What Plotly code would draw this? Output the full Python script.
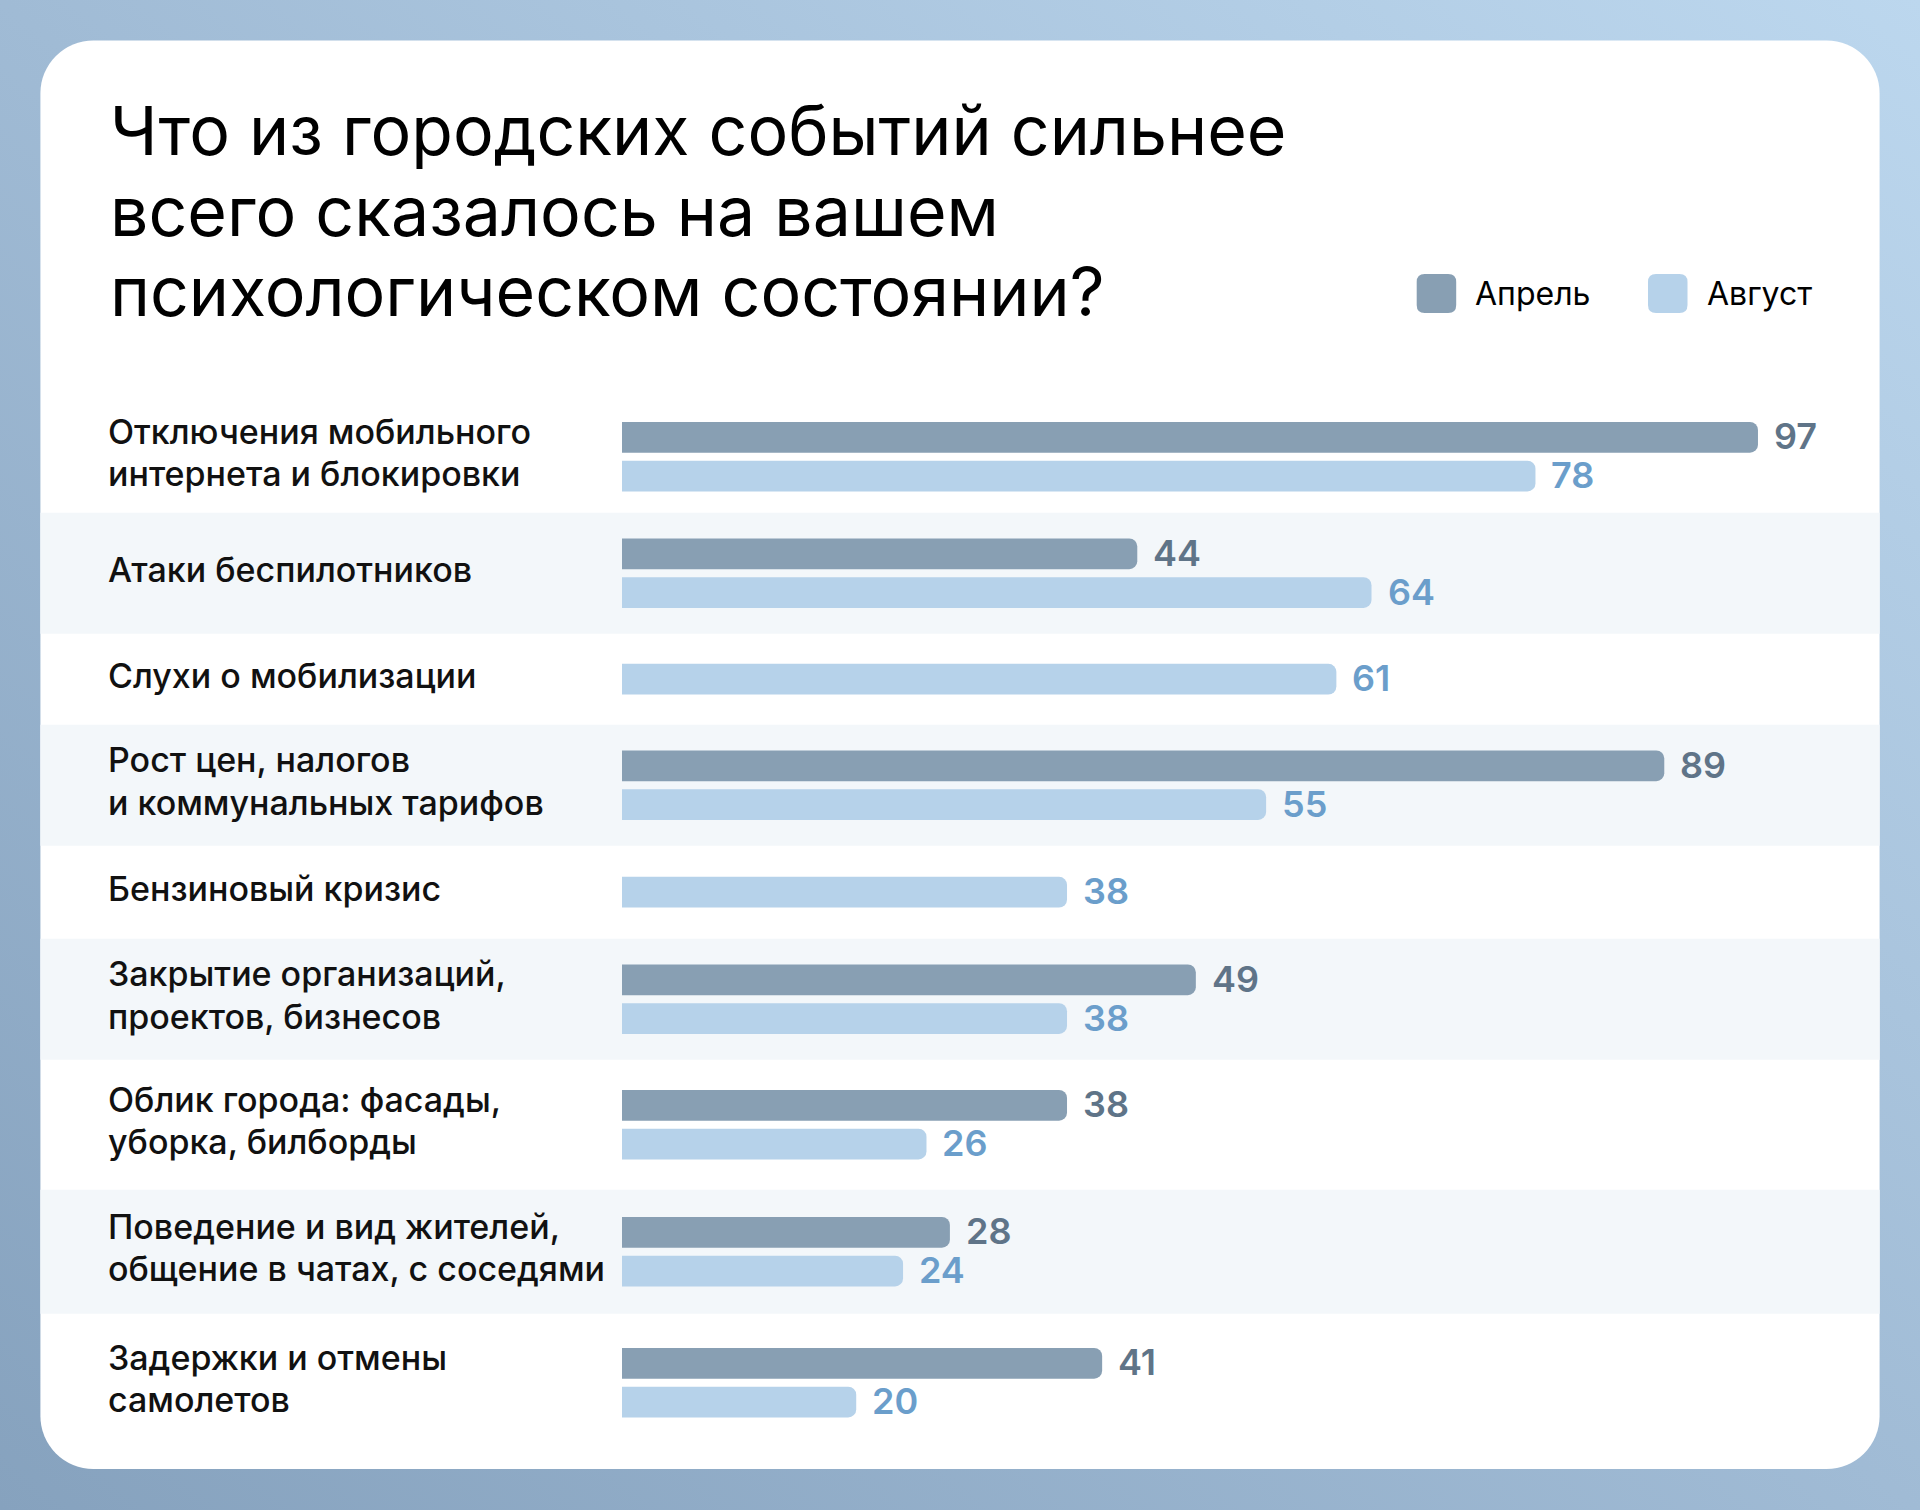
import base64
import plotly.graph_objects as go

# ---------------- data ----------------
TITLE_LINES = [
    "Что из городских событий сильнее",
    "всего сказалось на вашем",
    "психологическом состоянии?",
]
CATEGORIES = [
    "Отключения мобильного\nинтернета и блокировки",
    "Атаки беспилотников",
    "Слухи о мобилизации",
    "Рост цен, налогов\nи коммунальных тарифов",
    "Бензиновый кризис",
    "Закрытие организаций,\nпроектов, бизнесов",
    "Облик города: фасады,\nуборка, билборды",
    "Поведение и вид жителей,\nобщение в чатах, с соседями",
    "Задержки и отмены\nсамолетов",
]
SERIES_NAMES = ["Апрель", "Август"]
APRIL = [97, 44, None, 89, None, 49, 38, 28, 41]
AUGUST = [78, 64, 61, 55, 38, 38, 26, 24, 20]

# ---------------- layout constants (pixels) ----------------
W, H = 1920, 1510
ROWS_TOP = 400.7
ROW_HEIGHTS = [112, 121, 91, 121, 93, 121, 130, 124, 138]
BAR_H = 30.7
BAR_STEP = 38.7
BAR_X0 = 622.0
PX_PER_UNIT = 11.711
CARD = (40.4, 40.4, 1879.6, 1469.0)

COL_APR = "#889fb3"
COL_AUG = "#b6d2ea"
TXT_APR = "#5f7488"
TXT_AUG = "#6b9ecb"
BAND = "#f3f7fa"
FONT = "Inter"

# row geometry
row_tops, row_centers = [], []
t = ROWS_TOP
for h in ROW_HEIGHTS:
    row_tops.append(t)
    row_centers.append(t + h / 2)
    t += h

apr_y, apr_x, aug_y, aug_x = [], [], [], []
for i, (a, b) in enumerate(zip(APRIL, AUGUST)):
    c = row_centers[i]
    if a is not None and b is not None:
        apr_y.append(c - BAR_STEP / 2); apr_x.append(a)
        aug_y.append(c + BAR_STEP / 2); aug_x.append(b)
    elif a is not None:
        apr_y.append(c); apr_x.append(a)
    elif b is not None:
        aug_y.append(c); aug_x.append(b)

fig = go.Figure()
fig.add_trace(go.Bar(x=apr_x, y=apr_y, orientation="h", width=BAR_H,
                     marker=dict(color=COL_APR, line=dict(width=0)),
                     name=SERIES_NAMES[0], hoverinfo="x"))
fig.add_trace(go.Bar(x=aug_x, y=aug_y, orientation="h", width=BAR_H,
                     marker=dict(color=COL_AUG, line=dict(width=0)),
                     name=SERIES_NAMES[1], hoverinfo="x"))

annotations = []
for xs, ys, col in ((apr_x, apr_y, TXT_APR), (aug_x, aug_y, TXT_AUG)):
    for v, y in zip(xs, ys):
        annotations.append(dict(
            x=v, y=y, xref="x", yref="y", text=str(v), showarrow=False,
            xanchor="left", yanchor="middle", xshift=14, yshift=1,
            font=dict(family=FONT, size=36, color=col, weight=600)))

# category labels
LABEL_X = 106 / W
LINE_STEP = 42.5
for i, cat in enumerate(CATEGORIES):
    lines = cat.split("\n")
    n = len(lines)
    for j, ln in enumerate(lines):
        y = row_centers[i] + (j - (n - 1) / 2) * LINE_STEP - 4
        annotations.append(dict(
            x=LABEL_X, y=y, xref="paper", yref="y", text=ln, showarrow=False,
            xanchor="left", yanchor="middle",
            font=dict(family=FONT, size=34, color="#111111", weight=500)))

# title
TITLE_Y = [130, 211, 291]
for ln, y in zip(TITLE_LINES, TITLE_Y):
    annotations.append(dict(
        x=108 / W, y=y, xref="paper", yref="y", text=ln, showarrow=False,
        xanchor="left", yanchor="middle",
        font=dict(family=FONT, size=68, color="#000000", weight=400)))

# legend
shapes = []
LEG = [(1416.7, COL_APR, SERIES_NAMES[0]), (1648.0, COL_AUG, SERIES_NAMES[1])]
for x0, col, name in LEG:
    x1, y0, y1, r = x0 + 39.5, 274.0, 313.0, 8.0
    X0, X1, R = x0 / W, x1 / W, r / W
    path = (f"M{X0+R},{y0} L{X1-R},{y0} Q{X1},{y0} {X1},{y0+r} L{X1},{y1-r} "
            f"Q{X1},{y1} {X1-R},{y1} L{X0+R},{y1} Q{X0},{y1} {X0},{y1-r} "
            f"L{X0},{y0+r} Q{X0},{y0} {X0+R},{y0} Z")
    shapes.append(dict(type="path", path=path, xref="paper", yref="y",
                       fillcolor=col, line=dict(width=0), layer="above"))
    annotations.append(dict(
        x=(x1 + 17) / W, y=293.5, xref="paper", yref="y", text=name, showarrow=False,
        xanchor="left", yanchor="middle",
        font=dict(family=FONT, size=32, color="#000000", weight=400)))

# row bands
for i, (t0, h) in enumerate(zip(row_tops, ROW_HEIGHTS)):
    if i % 2 == 1:
        shapes.append(dict(type="rect", xref="paper", yref="y",
                           x0=CARD[0] / W, x1=CARD[2] / W, y0=t0, y1=t0 + h,
                           fillcolor=BAND, line=dict(width=0), layer="below"))

# background gradient + white card as svg
cx0, cy0, cx1, cy1 = CARD
svg = f'''<svg xmlns="http://www.w3.org/2000/svg" width="{W}" height="{H}" viewBox="0 0 {W} {H}" preserveAspectRatio="none">
<defs><linearGradient id="g" x1="0" y1="1" x2="1" y2="0">
<stop offset="0" stop-color="#86a2be"/><stop offset="0.5" stop-color="#a0bbd5"/><stop offset="1" stop-color="#bcd7ee"/>
</linearGradient></defs>
<rect x="0" y="0" width="{W}" height="{H}" fill="url(#g)"/>
<rect x="{cx0}" y="{cy0}" width="{cx1-cx0}" height="{cy1-cy0}" rx="53" ry="53" fill="#ffffff"/>
</svg>'''
src = "data:image/svg+xml;base64," + base64.b64encode(svg.encode("utf-8")).decode()

fig.update_layout(
    width=W, height=H,
    margin=dict(l=0, r=0, t=0, b=0),
    paper_bgcolor="rgba(0,0,0,0)", plot_bgcolor="rgba(0,0,0,0)",
    showlegend=False,
    barmode="overlay",
    barcornerradius=8,
    xaxis=dict(domain=[BAR_X0 / W, (BAR_X0 + 100 * PX_PER_UNIT) / W], range=[0, 100],
               visible=False, fixedrange=True),
    yaxis=dict(domain=[0, 1], range=[H, 0], visible=False, fixedrange=True),
    annotations=annotations,
    shapes=shapes,
    images=[dict(source=src, xref="paper", yref="paper", x=0, y=1, sizex=1, sizey=1,
                 xanchor="left", yanchor="top", sizing="stretch", layer="below")],
)

fig.write_html("out.html", config={"displayModeBar": False, "staticPlot": True},
               post_script="document.body.style.margin='0';")
